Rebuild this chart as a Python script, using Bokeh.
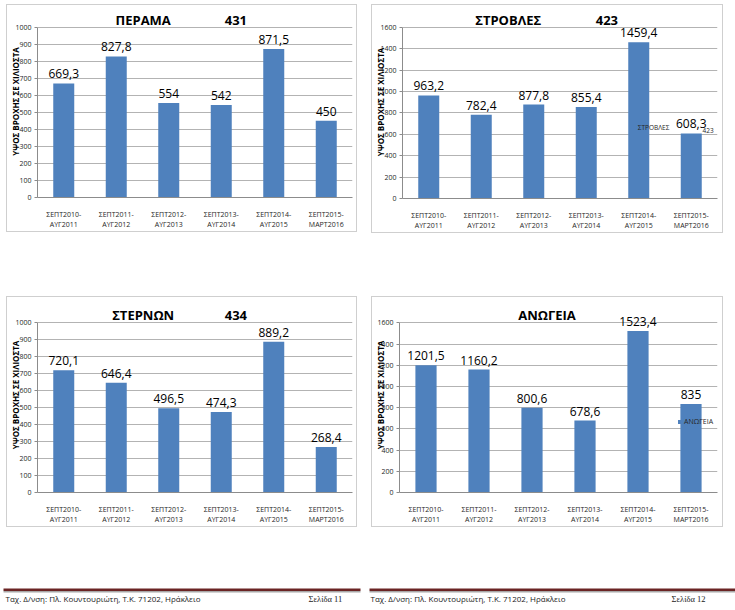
from math import pi
from bokeh.plotting import figure
from bokeh.core.properties import value
from bokeh.models import (ColumnDataSource, FactorRange, Range1d, LabelSet, Label,
                          FixedTicker, Legend, LegendItem, BoxAnnotation, Spacer, LinearAxis)
from bokeh.layouts import row, column
from bokeh.embed import file_html
from bokeh.resources import INLINE

# ---------------- data ----------------
periods = ["ΣΕΠΤ2010-\nΑΥΓ2011", "ΣΕΠΤ2011-\nΑΥΓ2012", "ΣΕΠΤ2012-\nΑΥΓ2013",
           "ΣΕΠΤ2013-\nΑΥΓ2014", "ΣΕΠΤ2014-\nΑΥΓ2015", "ΣΕΠΤ2015-\nΜΑΡΤ2016"]
perama = [669.3, 827.8, 554, 542, 871.5, 450]
stroveles = [963.2, 782.4, 877.8, 855.4, 1459.4, 608.3]
sternon = [720.1, 646.4, 496.5, 474.3, 889.2, 268.4]
anogeia = [1201.5, 1160.2, 800.6, 678.6, 1523.4, 835]
station_names = ["ΠΕΡΑΜΑ", "ΣΤΡΟΒΛΕΣ", "ΣΤΕΡΝΩΝ", "ΑΝΩΓΕΙΑ"]
station_codes = ["431", "423", "434", ""]
y_max = [1000, 1600, 1000, 1600]
y_step = [100, 200, 100, 200]
axis_title = "ΥΨΟΣ ΒΡΟΧΗΣ ΣΕ ΧΙΛΙΟΣΤΑ"
footer_address = "Ταχ. Δ/νση: Πλ. Κουντουριώτη, Τ.Κ. 71202, Ηράκλειο"
page_labels = ["Σελίδα 11", "Σελίδα 12"]

BAR = "#4F81BD"
GRID = "#b3b3b3"
AXIS = "#8c8c8c"
FONT = "Open Sans"
PANEL_STYLE = {"background-color": "white",
               "box-shadow": "inset 0 0 0 1px #cfcfcf"}


def fmt(v):
    return f"{v:g}".replace(".", ",")


def make_panel(values, name, code, ymax, step, x0, y0, w, h, frame, grid_top,
               name_pos, code_pos, title_center, title_standoff):
    fl, fr, ft, fb = frame  # frame edges (page pixels); grid_top = pixel of ymax
    y_end = ymax * (fb - ft) / (fb - grid_top)

    def dx(px):
        return (px - fl) / (fr - fl) * len(periods)

    def dy(py):
        return (fb - py) / (fb - ft) * y_end

    p = figure(width=w, height=h, x_range=FactorRange(*periods, range_padding=0),
               y_range=Range1d(0, y_end), toolbar_location=None, output_backend="svg",
               min_border_left=fl - x0, min_border_right=x0 + w - fr,
               min_border_top=ft - y0, min_border_bottom=y0 + h - fb,
               styles=PANEL_STYLE)
    p.outline_line_color = None
    p.background_fill_color = "white"
    p.border_fill_color = None

    src = ColumnDataSource(dict(period=periods, value=values,
                                label=[fmt(v) for v in values]))
    bars = p.vbar(x="period", top="value", width=0.4, source=src,
                  fill_color=BAR, line_color=None)

    ticks = list(range(0, ymax + 1, step))
    p.xgrid.visible = False
    p.ygrid.ticker = FixedTicker(ticks=ticks)
    p.ygrid.grid_line_color = GRID

    p.yaxis.ticker = FixedTicker(ticks=ticks)
    p.yaxis.bounds = (0, ymax)
    p.yaxis.axis_line_color = AXIS
    p.yaxis.major_tick_line_color = AXIS
    p.yaxis.major_tick_out = 3
    p.yaxis.major_tick_in = 0
    p.yaxis.minor_tick_line_color = None
    p.yaxis.major_label_standoff = 3
    p.yaxis.major_label_text_font = FONT
    p.yaxis.major_label_text_font_size = "7px"
    p.yaxis.major_label_text_color = "#262626"

    # axis title carried by a bare axis whose bounds centre it where the original has it
    tc = 2 * dy(title_center)
    title_axis = LinearAxis(ticker=FixedTicker(ticks=[]), bounds=(0, tc),
                            axis_line_color=None, major_tick_line_color=None,
                            minor_tick_line_color=None, major_tick_out=0, major_tick_in=0,
                            minor_tick_out=0, minor_tick_in=0, major_label_standoff=0,
                            major_label_text_font_size="0px",
                            axis_label=axis_title, axis_label_standoff=title_standoff,
                            axis_label_text_font=FONT, axis_label_text_font_size="8px",
                            axis_label_text_font_style="bold",
                            axis_label_text_color="black")
    p.add_layout(title_axis, "left")

    p.xaxis.axis_line_color = AXIS
    p.xaxis.major_tick_line_color = None
    p.xaxis.major_label_standoff = 6
    p.xaxis.major_label_text_font = FONT
    p.xaxis.major_label_text_font_size = "7px"
    p.xaxis.major_label_text_color = "#262626"

    p.add_layout(LabelSet(x="period", y="value", text="label", source=src,
                          y_offset=5, text_align="center", text_baseline="alphabetic",
                          text_font=value(FONT), text_font_size=value("12px"),
                          text_color="black"))

    p.add_layout(Label(x=dx(name_pos[0]), y=dy(name_pos[1]), text=name,
                       text_align="center", text_baseline="middle", text_font=FONT,
                       text_font_size="13px", text_font_style="bold", text_color="black"))
    if code:
        p.add_layout(Label(x=dx(code_pos[0]), y=dy(code_pos[1]), text=code,
                           text_align="center", text_baseline="middle", text_font=FONT,
                           text_font_size="13px", text_font_style="bold",
                           text_color="black"))
    return p, bars, dx, dy


p1, b1, dx1, dy1 = make_panel(perama, station_names[0], station_codes[0], y_max[0], y_step[0],
                              6, 4, 351, 228, (36, 352, 5, 201), 27,
                              (142, 20), (235, 20), 132, -8)
p2, b2, dx2, dy2 = make_panel(stroveles, station_names[1], station_codes[1], y_max[1], y_step[1],
                              371, 4, 352, 229, (401, 717, 5, 200), 27,
                              (507, 20), (606, 20), 133, -8)
p3, b3, dx3, dy3 = make_panel(sternon, station_names[2], station_codes[2], y_max[2], y_step[2],
                              6, 296, 351, 231, (36, 352, 297, 497), 323,
                              (142, 315), (235, 315), 423, -8)
p4, b4, dx4, dy4 = make_panel(anogeia, station_names[3], station_codes[3], y_max[3], y_step[3],
                              371, 296, 352, 231, (398, 717, 297, 496), 323,
                              (546, 315), (0, 0), 428, -11)

# stray legend texts of the original Excel charts
p2.add_layout(Label(x=dx2(637), y=dy2(128), text=station_names[1], text_align="left",
                    text_baseline="middle", text_font=FONT, text_font_size="6.5px",
                    text_color="#262626"))
p2.add_layout(Label(x=dx2(702), y=dy2(131), text=station_codes[1], text_align="left",
                    text_baseline="middle", text_font=FONT, text_font_size="6.5px",
                    text_color="#262626"))

leg = Legend(items=[LegendItem(label=station_names[3], renderers=[b4])],
             location=(278, 66), glyph_width=5, glyph_height=5, label_height=8,
             label_width=28, label_standoff=2, padding=0, margin=0, spacing=0,
             background_fill_alpha=0, border_line_color=None,
             label_text_font=FONT, label_text_font_size="7px", label_text_color="#262626")
p4.add_layout(leg)

# ---------------- footer ----------------
fw, fh = 735, 80
ft_ = figure(width=fw, height=fh, x_range=Range1d(0, fw), y_range=Range1d(fh, 0),
             toolbar_location=None, output_backend="svg", min_border=0,
             x_axis_location=None, y_axis_location=None)
ft_.grid.visible = False
ft_.outline_line_color = None
for (l, r) in [(3, 360), (369, 735)]:
    ft_.add_layout(BoxAnnotation(left=l, right=r, top=61, bottom=63.5, fill_color="#6b2424",
                                 fill_alpha=1, line_color=None))
    ft_.add_layout(BoxAnnotation(left=l, right=r, top=63.5, bottom=65, fill_color="#a8a8a8",
                                 fill_alpha=1, line_color=None))
for xa, xp, pl in [(5, 308, page_labels[0]), (370, 671, page_labels[1])]:
    ft_.add_layout(Label(x=xa, y=71, text=footer_address, text_align="left",
                         text_baseline="middle", text_font=FONT, text_font_size="8px",
                         text_color="#1a1a1a"))
    ft_.add_layout(Label(x=xp, y=71, text=pl, text_align="left",
                         text_baseline="middle", text_font="Liberation Serif",
                         text_font_size="8.5px", text_color="#1a1a1a"))

layout = column(Spacer(width=10, height=4),
                row(Spacer(width=6, height=10), p1, Spacer(width=14, height=10), p2),
                Spacer(width=10, height=63),
                row(Spacer(width=6, height=10), p3, Spacer(width=14, height=10), p4),
                ft_)

open("out.html", "w").write(file_html(layout, INLINE))
